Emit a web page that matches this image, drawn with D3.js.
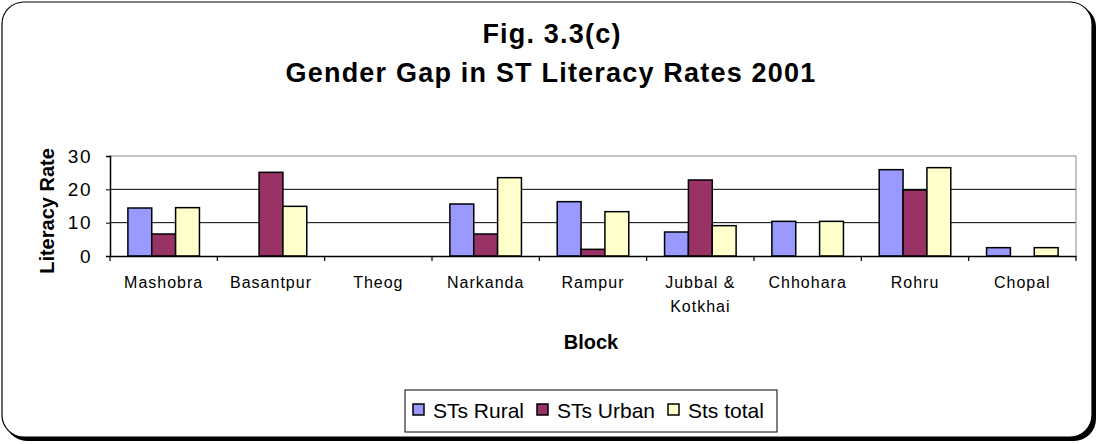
<!DOCTYPE html>
<html><head><meta charset="utf-8">
<script src="https://cdn.jsdelivr.net/npm/d3@7"></script>
<style>body{margin:0;background:#fff}svg{display:block;font-family:"Liberation Sans",Arial,sans-serif}</style>
</head><body><svg id="c" width="1101" height="444"></svg>
<script>
const categories = ["Mashobra","Basantpur","Theog","Narkanda","Rampur","Jubbal & Kotkhai","Chhohara","Rohru","Chopal"];
const stsRural = [14.4, 0, 0, 15.6, 16.3, 7.2, 10.4, 25.9, 2.5];
const stsUrban = [6.6, 25.1, 0, 6.6, 2.0, 22.8, 0, 19.8, 0];
const stsTotal = [14.5, 14.9, 0, 23.5, 13.3, 9.1, 10.4, 26.5, 2.5];
const seriesNames = ["STs Rural","STs Urban","Sts total"];
const colors = ["#9999FF","#993366","#FFFFCC"];
const yTicks = [0,10,20,30];

const svg = d3.select("#c");
// frame with shadow
svg.append("rect").attr("x",5).attr("y",5).attr("width",1091).attr("height",436).attr("rx",22).attr("fill","#000");
svg.append("rect").attr("x",2).attr("y",2).attr("width",1090).attr("height",435).attr("rx",22).attr("fill","#fff").attr("stroke","#000").attr("stroke-width",1.2);

const L=110,R=1076,T=156,B=256;
const x = d3.scaleBand().domain(categories).range([L,R]).paddingInner(0).paddingOuter(0);
const y = d3.scaleLinear().domain([0,30]).range([B,T]);
const gw = x.bandwidth()/(3+1.5);
const xs = d3.scaleBand().domain(seriesNames).range([0,gw*3]);

// gridlines
svg.append("g").selectAll("line").data(yTicks.filter(d=>d>0)).join("line")
  .attr("x1",L).attr("x2",R).attr("y1",d=>y(d)).attr("y2",d=>y(d))
  .attr("stroke",d=>d===30?"#888":"#000").attr("stroke-width",1);
svg.append("line").attr("x1",R).attr("x2",R).attr("y1",T).attr("y2",B).attr("stroke","#888");

const data = [stsRural, stsUrban, stsTotal];
categories.forEach((c,i)=>{
  seriesNames.forEach((s,j)=>{
    const v = data[j][i];
    if(v>0){
      svg.append("rect")
        .attr("x", x(c)+gw*0.75+xs(s)).attr("y", y(v))
        .attr("width", xs.bandwidth()).attr("height", y(0)-y(v))
        .attr("fill", colors[j]).attr("stroke","#000").attr("stroke-width",1.5);
    }
  });
});

// y axis
const ya = svg.append("g").attr("transform",`translate(${L},0)`)
  .call(d3.axisLeft(y).tickValues(yTicks).tickSize(4).tickPadding(14));
ya.select(".domain").attr("stroke","#000").attr("stroke-width",1.5);
ya.selectAll("text").attr("font-size",19).attr("letter-spacing",1.5).attr("fill","#000").attr("font-family","Liberation Sans, Arial, sans-serif");
// x axis
const xa = svg.append("g").attr("transform",`translate(0,${B})`)
  .call(d3.axisBottom(x).tickSize(0).tickFormat(""));
xa.select(".domain").attr("stroke","#000").attr("stroke-width",1.5);
svg.append("g").selectAll("line").data(categories.map((c,i)=>x(c)).concat([R])).join("line")
  .attr("x1",d=>d).attr("x2",d=>d).attr("y1",B).attr("y2",B+5).attr("stroke","#000").attr("stroke-width",1.2);

// x labels
categories.forEach(c=>{
  const lines = c==="Jubbal & Kotkhai" ? ["Jubbal &","Kotkhai"] : [c];
  lines.forEach((ln,k)=>{
    svg.append("text").attr("x",x(c)+x.bandwidth()/2).attr("y",288+k*24)
      .attr("text-anchor","middle").attr("font-size",16).attr("letter-spacing",1).text(ln);
  });
});

// titles
svg.append("text").attr("x",552).attr("y",43).attr("text-anchor","middle").attr("font-size",27).attr("letter-spacing",1.2).attr("font-weight","bold").text("Fig. 3.3(c)");
svg.append("text").attr("x",551).attr("y",82).attr("text-anchor","middle").attr("font-size",27).attr("letter-spacing",1.2).attr("font-weight","bold").text("Gender Gap in ST Literacy Rates 2001");
svg.append("text").attr("transform","translate(54,211) rotate(-90)").attr("text-anchor","middle").attr("font-size",20).attr("font-weight","bold").text("Literacy Rate");
svg.append("text").attr("x",591).attr("y",349).attr("text-anchor","middle").attr("font-size",20).attr("font-weight","bold").text("Block");

// legend
const lg = svg.append("g");
lg.append("rect").attr("x",405).attr("y",390).attr("width",372).attr("height",42).attr("fill","#fff").attr("stroke","#000").attr("stroke-width",1);
const lx = [413, 537, 668];
seriesNames.forEach((s,j)=>{
  lg.append("rect").attr("x",lx[j]).attr("y",404).attr("width",11).attr("height",11).attr("fill",colors[j]).attr("stroke","#000").attr("stroke-width",1.5);
  lg.append("text").attr("x",lx[j]+20).attr("y",418).attr("font-size",21).text(s);
});
</script></body></html>
